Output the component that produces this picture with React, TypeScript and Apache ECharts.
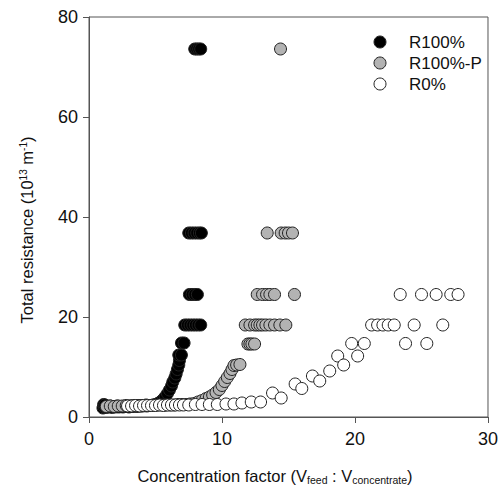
import React, { useEffect, useRef } from "react";
import * as echarts from "echarts";

const FONT = "'Liberation Sans', Arial, Helvetica, sans-serif";

const seriesNames = ["R100%", "R100%-P", "R0%"];
const xTicks = [0, 10, 20, 30];
const yTicks = [0, 20, 40, 60, 80];

// R100% (black)
const r100X = [
  1.05, 1.1, 1.15, 1.2, 1.3, 1.4, 1.5, 1.6, 1.75, 1.9, 2.0, 2.1, 2.25, 2.4, 2.55, 2.7, 2.85, 3.0,
  3.15, 3.3, 3.45, 3.6, 3.75, 3.9, 4.05, 4.2, 4.35, 4.5, 4.65, 4.8, 4.95,
  5.1, 5.25, 5.4, 5.6, 5.75, 5.9, 6.05, 6.2, 6.3, 6.45, 6.55, 6.65, 6.75, 6.8, 6.75, 6.95,
  6.95, 7.15,
  7.2, 7.4, 7.6, 7.8, 8.0, 8.2, 8.4,
  7.55, 7.75, 7.95, 8.15,
  7.5, 7.7, 7.9, 8.1, 8.3, 8.45,
  7.95, 8.1, 8.25, 8.4,
];
const r100Y = [
  1.8, 2.5, 2.0, 2.4, 1.9, 2.1, 2.0, 2.2, 1.9, 2.1, 2.0, 2.2, 2.0, 2.1, 2.0, 2.2, 2.1, 2.0,
  2.2, 2.1, 2.2, 2.1, 2.2, 2.2, 2.2, 2.3, 2.2, 2.3, 2.3, 2.4, 2.4,
  2.6, 2.8, 3.1, 3.6, 4.1, 4.7, 5.4, 6.2, 7.0, 7.8, 8.6, 9.5, 10.4, 11.3, 12.4, 12.4,
  14.8, 14.8,
  18.4, 18.4, 18.4, 18.4, 18.4, 18.4, 18.4,
  24.5, 24.5, 24.5, 24.5,
  36.8, 36.8, 36.8, 36.8, 36.8, 36.8,
  73.6, 73.6, 73.6, 73.6,
];

// R100%-P (grey)
const r100pX = [
  1.3, 1.6, 1.9, 2.2, 2.5, 2.8, 3.1, 3.4, 3.7, 4.0, 4.3, 4.6, 4.9, 5.2, 5.5, 5.8, 6.1, 6.4, 6.7,
  7.0, 7.3, 7.6, 7.9,
  8.2, 8.5, 8.8, 9.05, 9.3, 9.55, 9.8, 10.0, 10.2, 10.4, 10.6, 10.75, 10.9, 11.1, 11.35,
  11.95, 12.1, 12.25, 12.45,
  11.75, 12.1, 12.45, 12.65, 12.85, 13.05, 13.3, 13.6, 13.95, 14.35, 14.8,
  12.65, 13.05, 13.35, 13.6, 13.95, 15.45,
  13.4, 14.45, 14.75, 15.0, 15.3,
  14.4,
];
const r100pY = [
  2.1, 2.2, 2.1, 2.2, 2.2, 2.3, 2.2, 2.3, 2.3, 2.3, 2.4, 2.3, 2.4, 2.4, 2.4, 2.4, 2.4, 2.4, 2.5,
  2.5, 2.5, 2.6, 2.7,
  3.0, 3.3, 3.7, 4.0, 4.4, 4.9, 5.5, 6.3, 7.1, 7.9, 8.7, 9.5, 10.3, 10.4, 10.5,
  14.6, 14.6, 14.6, 14.6,
  18.4, 18.4, 18.4, 18.4, 18.4, 18.4, 18.4, 18.4, 18.4, 18.4, 18.4,
  24.5, 24.5, 24.5, 24.5, 24.5, 24.5,
  36.8, 36.8, 36.8, 36.8, 36.8,
  73.6,
];

// R0% (white)
const r0X = [
  2.9, 3.2, 3.5, 3.8, 4.1, 4.4, 4.7, 5.0, 5.3, 5.6, 5.9, 6.2, 6.5, 6.8, 7.1, 7.5, 8.0, 8.5,
  9.05, 9.65, 10.3, 10.9, 11.5, 12.2, 12.9,
  13.8, 14.45, 15.5, 16.0, 16.8, 17.35, 18.1, 18.7, 19.15, 19.75, 20.2, 20.7,
  21.25, 21.7, 22.1, 22.5, 22.95, 24.45, 26.6,
  23.8, 25.4,
  23.4, 25.0, 26.1, 27.2, 27.75,
];
const r0Y = [
  2.2, 2.2, 2.3, 2.2, 2.3, 2.3, 2.3, 2.3, 2.4, 2.3, 2.4, 2.4, 2.4, 2.4, 2.4, 2.4, 2.5, 2.5,
  2.5, 2.5, 2.6, 2.6, 2.8, 3.0, 3.0,
  4.8, 3.8, 6.6, 5.7, 8.2, 7.2, 9.2, 12.2, 10.4, 14.7, 12.2, 14.7,
  18.4, 18.4, 18.4, 18.4, 18.4, 18.4, 18.4,
  14.7, 14.7,
  24.5, 24.5, 24.5, 24.5, 24.5,
];

const fills = ["#000000", "#b3b3b3", "#ffffff"];

const zip = (xs: number[], ys: number[]) => xs.map((x, i) => [x, ys[i]]);

export default function App() {
  const ref = useRef<HTMLDivElement>(null);
  useEffect(() => {
    if (!ref.current) return;
    const chart = echarts.init(ref.current, undefined, { renderer: "svg" });
    const datas = [zip(r100X, r100Y), zip(r100pX, r100pY), zip(r0X, r0Y)];
    const rich = {
      n: { fontSize: 16.5, fontFamily: FONT, fill: "#111", color: "#111", lineHeight: 18 },
      sup: { fontSize: 10, fontFamily: FONT, fill: "#111", color: "#111", lineHeight: 6, verticalAlign: "top" },
      sub: { fontSize: 10.5, fontFamily: FONT, fill: "#111", color: "#111", lineHeight: 6, verticalAlign: "bottom" },
    };
    const legendGraphics: any[] = [];
    seriesNames.forEach((name, i) => {
      const cy = 42 + i * 21;
      legendGraphics.push({
        type: "circle",
        shape: { cx: 380, cy, r: 6 },
        style: { fill: fills[i], stroke: "#222", lineWidth: 1 },
        z: 100,
      });
      legendGraphics.push({
        type: "text",
        x: 409,
        y: cy,
        style: {
          text: name,
          fontSize: 17,
          fontFamily: FONT,
          fill: "#111",
          align: "left",
          verticalAlign: "middle",
        },
        z: 100,
      });
    });
    chart.setOption({
      animation: false,
      grid: {
        left: 89,
        top: 17,
        width: 401,
        height: 400,
        show: true,
        borderColor: "#555",
        borderWidth: 1,
        backgroundColor: "transparent",
      },
      xAxis: {
        type: "value",
        min: xTicks[0],
        max: xTicks[xTicks.length - 1],
        interval: 10,
        axisLine: { show: true, onZero: false, lineStyle: { color: "#555", width: 1 } },
        axisTick: { show: true, inside: false, length: 6, lineStyle: { color: "#555" } },
        axisLabel: { fontSize: 18, fontFamily: FONT, color: "#111", margin: 13 },
        splitLine: { show: false },
      },
      yAxis: {
        type: "value",
        min: yTicks[0],
        max: yTicks[yTicks.length - 1],
        interval: 20,
        axisLine: { show: true, onZero: false, lineStyle: { color: "#555", width: 1 } },
        axisTick: { show: true, inside: false, length: 6, lineStyle: { color: "#555" } },
        axisLabel: { fontSize: 18, fontFamily: FONT, color: "#111", margin: 11 },
        splitLine: { show: false },
      },
      graphic: [
        {
          type: "text",
          x: 275,
          y: 476,
          style: {
            text: "{n|Concentration factor (V}{sub|feed}{n| : V}{sub|concentrate}{n|)}",
            align: "center",
            verticalAlign: "middle",
            rich,
          },
        },
        {
          type: "text",
          x: 27,
          y: 230,
          rotation: Math.PI / 2,
          style: {
            text: "{n|Total resistance (10}{sup|13}{n| m}{sup|-1}{n|)}",
            align: "center",
            verticalAlign: "middle",
            rich,
          },
        },
        ...legendGraphics,
      ],
      series: seriesNames.map((name, i) => ({
        name,
        type: "scatter",
        symbol: "circle",
        symbolSize: 12,
        data: datas[i],
        itemStyle: { color: fills[i], borderColor: "#222", borderWidth: 1, opacity: 1 },
        emphasis: { disabled: true },
      })),
    });
    return () => chart.dispose();
  }, []);
  return (
    <div style={{ position: "fixed", left: 0, top: 0, width: 501, height: 488, background: "#fff" }}>
      <div ref={ref} style={{ width: 501, height: 488 }} />
    </div>
  );
}
